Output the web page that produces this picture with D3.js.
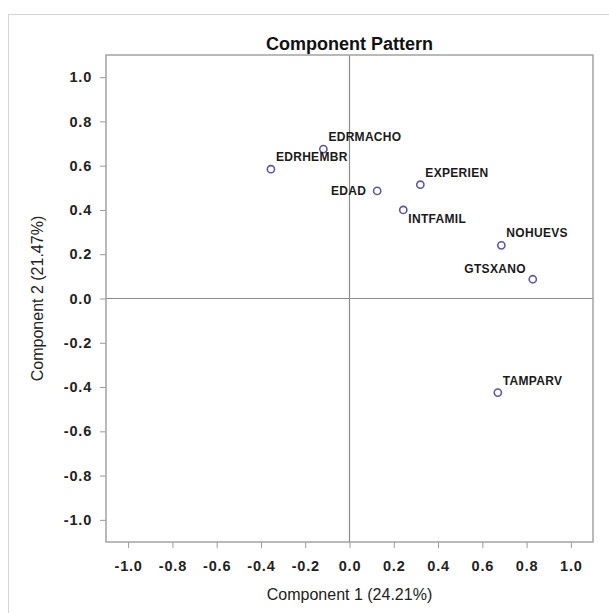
<!DOCTYPE html>
<html>
<head>
<meta charset="utf-8">
<script src="https://cdn.jsdelivr.net/npm/d3@7"></script>
<style>
  body { margin: 0; background: #fff; }
  svg text { font-family: "Liberation Sans", Arial, sans-serif; }
</style>
</head>
<body>
<div id="chart"></div>
<script>
// ------ Data ---------------//
var variables = ["EDRMACHO", "EDRHEMBR", "EDAD", "EXPERIEN", "INTFAMIL", "NOHUEVS", "GTSXANO", "TAMPARV"];
var comp1 = [-0.118, -0.355, 0.125, 0.320, 0.243, 0.686, 0.828, 0.670];
var comp2 = [0.675, 0.584, 0.486, 0.514, 0.400, 0.240, 0.087, -0.425];
var labelPos = ["ne", "ne", "w", "ne", "se", "ne", "nw", "ne"];
var tickValues = [-1.0, -0.8, -0.6, -0.4, -0.2, 0.0, 0.2, 0.4, 0.6, 0.8, 1.0];

var titleText = "Component Pattern";
var xLabel = "Component 1 (24.21%)";
var yLabel = "Component 2 (21.47%)";

// ------ Setup ---------------//
var width = 609, height = 613;
var margin = {top: 55, right: 16, bottom: 71, left: 106};

var svg = d3.select("#chart").append("svg")
  .attr("width", width)
  .attr("height", height);

svg.append("rect")
  .attr("width", width).attr("height", height)
  .attr("fill", "#fff");

// outer figure border (only left/top visible)
svg.append("rect")
  .attr("x", 8.5).attr("y", 14.5)
  .attr("width", 640).attr("height", 640)
  .attr("fill", "none")
  .attr("stroke", "#d4d4d4");

// ------ Scales ---------------//
var x = d3.scaleLinear()
  .domain([-1.1, 1.1])
  .range([margin.left, width - margin.right]);

var y = d3.scaleLinear()
  .domain([-1.1, 1.1])
  .range([height - margin.bottom, margin.top]);

// ------ Axes ---------------//
var fmt = function(d) { return d.toFixed(1); };

var gx = svg.append("g")
  .attr("transform", `translate(0,${height - margin.bottom})`)
  .call(d3.axisBottom(x).tickValues(tickValues).tickFormat(fmt).tickSize(6).tickPadding(13));

var gy = svg.append("g")
  .attr("transform", `translate(${margin.left},0)`)
  .call(d3.axisLeft(y).tickValues(tickValues).tickFormat(fmt).tickSize(6).tickPadding(8));

[gx, gy].forEach(function(g) {
  g.select(".domain").remove();
  g.selectAll(".tick line").attr("stroke", "#9a9a9a");
  g.selectAll(".tick text")
    .attr("fill", "#222")
    .style("font-size", "14.5px")
    .style("font-weight", "bold")
    .style("letter-spacing", "0.8px");
});

// ------ Reference lines at zero ---------------//
svg.append("line")
  .attr("x1", x(0)).attr("x2", x(0))
  .attr("y1", y(1.1)).attr("y2", y(-1.1))
  .attr("stroke", "#8c8c8c").attr("stroke-width", 1.2);

svg.append("line")
  .attr("x1", x(-1.1)).attr("x2", x(1.1))
  .attr("y1", y(0)).attr("y2", y(0))
  .attr("stroke", "#8c8c8c").attr("stroke-width", 1.2);

// ------ Frame ---------------//
svg.append("rect")
  .attr("x", x(-1.1)).attr("y", y(1.1))
  .attr("width", x(1.1) - x(-1.1))
  .attr("height", y(-1.1) - y(1.1))
  .attr("fill", "none")
  .attr("stroke", "#a3a3a3")
  .attr("stroke-width", 1.5);

// ------ Titles ---------------//
svg.append("text")
  .attr("x", x(0)).attr("y", 50)
  .attr("text-anchor", "middle")
  .style("font-size", "18px")
  .style("font-weight", "bold")
  .attr("fill", "#111")
  .text(titleText);

svg.append("text")
  .attr("x", x(0)).attr("y", 600)
  .attr("text-anchor", "middle")
  .style("font-size", "16px")
  .attr("fill", "#222")
  .text(xLabel);

svg.append("text")
  .attr("transform", `translate(43,${y(0)}) rotate(-90)`)
  .attr("text-anchor", "middle")
  .style("font-size", "16px")
  .attr("fill", "#222")
  .text(yLabel);

// ------ Points and labels ---------------//
var data = variables.map(function(v, i) {
  return {name: v, c1: comp1[i], c2: comp2[i], pos: labelPos[i]};
});

var placement = {
  ne: {dx: 5, dy: -12, anchor: "start"},
  nw: {dx: -7, dy: -10, anchor: "end"},
  w:  {dx: -11, dy: 0, anchor: "end"},
  se: {dx: 5, dy: 9, anchor: "start"}
};

svg.append("g").selectAll("circle")
  .data(data)
  .join("circle")
  .attr("cx", d => x(d.c1))
  .attr("cy", d => y(d.c2))
  .attr("r", 3.6)
  .attr("fill", "#fff")
  .attr("stroke", "#5a5a9c")
  .attr("stroke-width", 1.6);

svg.append("g").selectAll("text")
  .data(data)
  .join("text")
  .attr("x", d => x(d.c1) + placement[d.pos].dx)
  .attr("y", d => y(d.c2) + placement[d.pos].dy)
  .attr("text-anchor", d => placement[d.pos].anchor)
  .attr("dominant-baseline", "central")
  .style("font-size", "12px")
  .style("font-weight", "bold")
  .style("letter-spacing", "0.3px")
  .attr("fill", "#1a1a1a")
  .text(d => d.name);
</script>
</body>
</html>
